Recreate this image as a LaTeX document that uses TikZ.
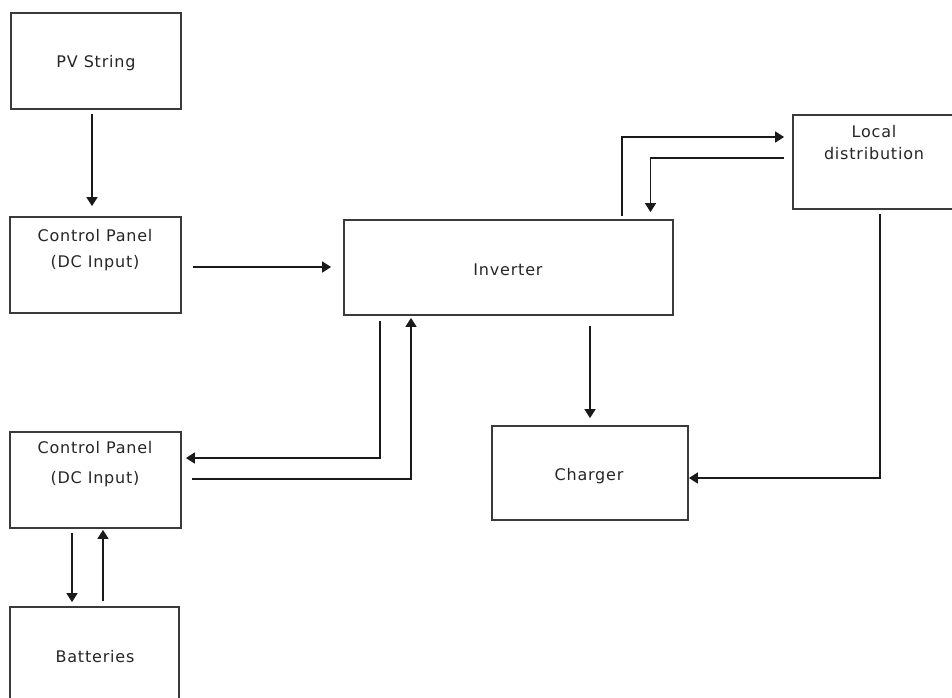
\documentclass[tikz,border=0pt]{standalone}
\usepackage{fontspec}
\setmainfont[LetterSpace=5]{DejaVu Sans}
\usetikzlibrary{arrows.meta}
\definecolor{boxc}{HTML}{3A3A3A}
\definecolor{txtc}{HTML}{262626}
\definecolor{arrc}{HTML}{1A1A1A}
\tikzset{
  blk/.style={draw=boxc, line width=1.8pt, rectangle, inner sep=0pt},
  lbl/.style={inner sep=0pt, text=txtc, font=\fontsize{16}{19}\selectfont},
  arr/.style={draw=arrc, line width=1.6pt, -{Triangle[length=9pt,width=11pt]}},
}
\begin{document}
\begin{tikzpicture}[x=1pt,y=-1pt]
\useasboundingbox[fill=white] (0,0) rectangle (952,697);
% boxes
\node[blk, minimum width=170pt, minimum height=96pt] (pv) at (96,61) {};
\node[blk, minimum width=171pt, minimum height=96pt] (cp1) at (95.5,265) {};
\node[blk, minimum width=329pt, minimum height=95pt] (inv) at (508.5,267.5) {};
\node[blk, minimum width=170pt, minimum height=94pt] (ld) at (878,162) {};
\node[blk, minimum width=171pt, minimum height=96pt] (cp2) at (95.5,480) {};
\node[blk, minimum width=196pt, minimum height=94pt] (ch) at (590,473) {};
\node[blk, minimum width=169pt, minimum height=113pt] (bat) at (94.5,663.5) {};
% labels
\node[lbl] (tpv) at (96,63) {PV String};
\node[lbl] (tcp1a) at (95,236) {Control Panel};
\node[lbl] (tcp1b) at (95,263) {(DC Input)};
\node[lbl] (tinv) at (508,270) {Inverter};
\node[lbl] (tlda) at (874,132) {Local};
\node[lbl] (tldb) at (874,154) {distribution};
\node[lbl] (tcp2a) at (95,448) {Control Panel};
\node[lbl] (tcp2b) at (95,479) {(DC Input)};
\node[lbl] (tch) at (589,476) {Charger};
\node[lbl] (tbat) at (95,657) {Batteries};
% connectors
\draw[arr] ([xshift=-4pt,yshift=-4pt]pv.south) -- ([xshift=-3.5pt,yshift=10pt]cp1.north);
\draw[arr] ([xshift=11pt,yshift=-2pt]cp1.east) -- ([xshift=-12pt,yshift=0.5pt]inv.west);
\draw[arr] ([xshift=113.5pt,yshift=3pt]inv.north) |- ([xshift=-8pt,yshift=25pt]ld.west);
\draw[arr] ([xshift=-8pt,yshift=4pt]ld.west) -| ([xshift=142pt,yshift=7pt]inv.north);
\draw[arr] ([xshift=2pt,yshift=-4pt]ld.south) |- ([yshift=-5pt]ch.east);
\draw[arr] ([xshift=81.5pt,yshift=-10pt]inv.south) -- ([yshift=7pt]ch.north);
\draw[arr] ([xshift=-128.5pt,yshift=-5pt]inv.south) |- ([xshift=4pt,yshift=22pt]cp2.east);
\draw[arr] ([xshift=10pt,yshift=1pt]cp2.east) -| ([xshift=-97.5pt,yshift=-2pt]inv.south);
\draw[arr] ([xshift=-23.5pt,yshift=-4pt]cp2.south) -- ([xshift=-22.5pt,yshift=4pt]bat.north);
\draw[arr] ([xshift=8.5pt,yshift=5pt]bat.north) -- ([xshift=7.5pt,yshift=-1pt]cp2.south);
\end{tikzpicture}
\end{document}
